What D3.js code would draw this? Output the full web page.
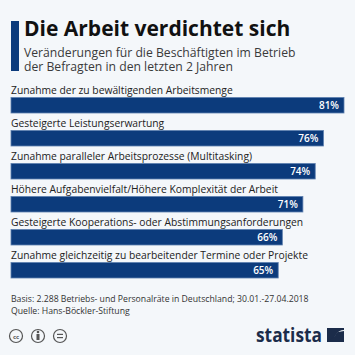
<!DOCTYPE html>
<html><head><meta charset="utf-8">
<script src="https://cdn.jsdelivr.net/npm/d3@7"></script>
<style>
html,body{margin:0;padding:0;background:#f4f7fa;}
svg{display:block;}
text{font-family:"Open Sans",sans-serif;}
</style></head>
<body>
<script>
const categories = [
  "Zunahme der zu bewältigenden Arbeitsmenge",
  "Gesteigerte Leistungserwartung",
  "Zunahme paralleler Arbeitsprozesse (Multitasking)",
  "Höhere Aufgabenvielfalt/Höhere Komplexität der Arbeit",
  "Gesteigerte Kooperations- oder Abstimmungsanforderungen",
  "Zunahme gleichzeitig zu bearbeitender Termine oder Projekte"
];
const values = [81, 76, 74, 71, 66, 65];
const valueLabels = ["81%", "76%", "74%", "71%", "66%", "65%"];
const title = "Die Arbeit verdichtet sich";
const subtitle = ["Veränderungen für die Beschäftigten im Betrieb", "der Befragten in den letzten 2 Jahren"];
const notes = ["Basis: 2.288 Betriebs- und Personalräte in Deutschland; 30.01.-27.04.2018", "Quelle: Hans-Böckler-Stiftung"];

const W = 355, H = 355;
const svg = d3.select("body").append("svg").attr("width", W).attr("height", H);
svg.append("rect").attr("width", W).attr("height", H).attr("fill", "#f4f7fa");

const navy = "#0c3b7c";
// header accent
svg.append("rect").attr("x", 11).attr("y", 21).attr("width", 8).attr("height", 50).attr("fill", navy);
svg.append("text").attr("x", 24).attr("y", 36).attr("font-size", 21).attr("font-weight", 700)
  .attr("fill", "#111").text(title);
svg.selectAll("text.sub").data(subtitle).enter().append("text").attr("class", "sub")
  .attr("x", 24).attr("y", (d, i) => 57 + i * 14).attr("font-size", 12.2).attr("fill", "#3a3a3a").text(d => d);

const x = d3.scaleLinear().domain([0, 81]).range([11, 344]);
const y = d3.scaleBand().domain(d3.range(categories.length)).range([83, 281]).paddingInner(0);

const g = svg.append("g");
const rows = g.selectAll("g.row").data(categories).enter().append("g").attr("class", "row");
rows.append("text").attr("x", 11).attr("y", (d, i) => y(i) + 11).attr("font-size", 10.3).attr("fill", "#222").text(d => d);
rows.append("rect").attr("x", x(0)).attr("y", (d, i) => y(i) + 14.5).attr("height", 15.5)
  .attr("width", (d, i) => x(values[i]) - x(0)).attr("fill", navy)
  .attr("stroke", "#5d7fae").attr("stroke-width", 0.8);
rows.append("text").attr("x", (d, i) => x(values[i]) - 5).attr("y", (d, i) => y(i) + 26)
  .attr("text-anchor", "end").attr("font-size", 10).attr("font-weight", 600).attr("fill", "#fff")
  .text((d, i) => valueLabels[i]);

svg.selectAll("text.note").data(notes).enter().append("text").attr("class", "note")
  .attr("x", 11).attr("y", (d, i) => 302 + i * 11.5).attr("font-size", 8.7).attr("fill", "#333").text(d => d);

// CC icons
const icons = svg.append("g").attr("fill", "none").attr("stroke", "#555").attr("stroke-width", 1.2);
[16, 38, 60].forEach((cx, k) => {
  icons.append("circle").attr("cx", cx).attr("cy", 336).attr("r", 6.5);
});
svg.append("text").attr("x", 16).attr("y", 338.5).attr("text-anchor", "middle").attr("font-size", 6).attr("font-weight", 700).attr("fill", "#555").text("cc");
svg.append("circle").attr("cx", 38).attr("cy", 332).attr("r", 1.3).attr("fill", "#555");
svg.append("rect").attr("x", 36.5).attr("y", 334).attr("width", 3).attr("height", 6).attr("fill", "#555");
svg.append("rect").attr("x", 57).attr("y", 333.8).attr("width", 6).attr("height", 1.2).attr("fill", "#555");
svg.append("rect").attr("x", 57).attr("y", 337).attr("width", 6).attr("height", 1.2).attr("fill", "#555");

// statista logo
svg.append("text").attr("x", 256).attr("y", 342).attr("font-size", 19)
  .attr("font-weight", 700).attr("fill", "#1b2c4a").attr("font-family", "Roboto, sans-serif")
  .attr("textLength", 66).attr("lengthAdjust", "spacingAndGlyphs").text("statista");
const lg = svg.append("g").attr("transform", "translate(327,328)");
lg.append("path").attr("d", "M0,0 H17 V2 C10,2 9,8 6,11 L0,14 Z").attr("fill", "#1b2c4a");
lg.append("path").attr("d", "M17,3 V14 H0 V12 C7,12 8,6 11,4 Z").attr("fill", "#1b2c4a");
</script>
</body></html>
